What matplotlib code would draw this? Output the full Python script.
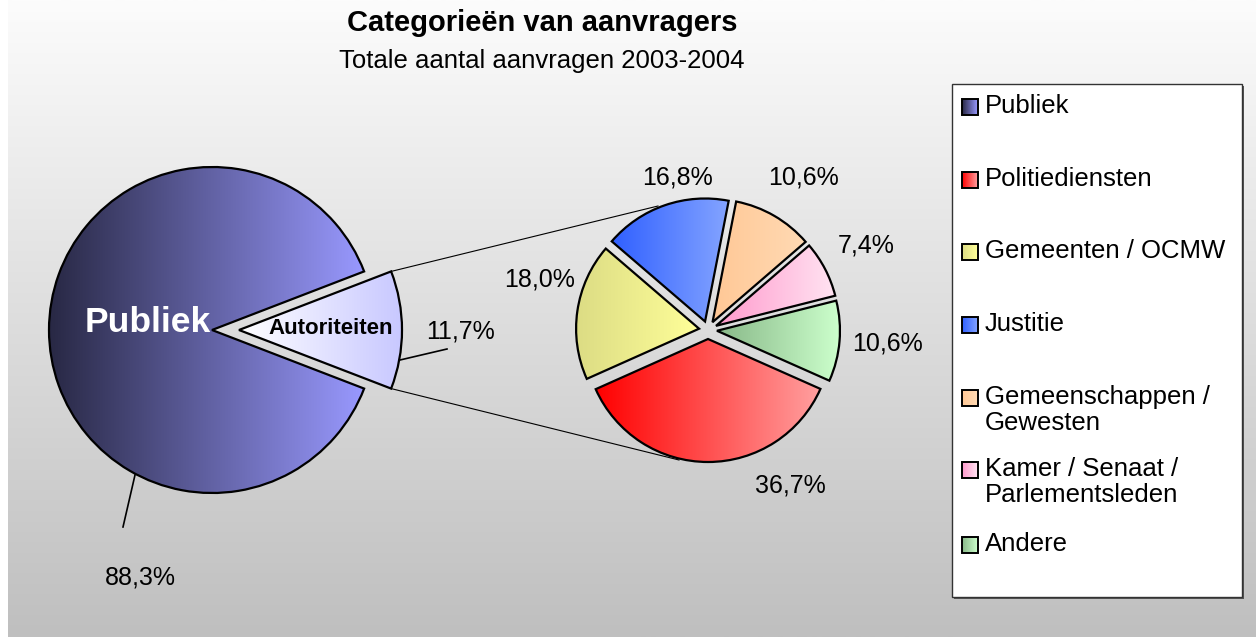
import numpy as np
import matplotlib
matplotlib.use("Agg")
import matplotlib.pyplot as plt
from matplotlib.colors import LinearSegmentedColormap
from matplotlib.patches import Rectangle

plt.rcParams['font.family'] = ['Liberation Sans', 'DejaVu Sans']

# data
main_labels = ['Publiek', 'Autoriteiten']
main_values = [88.3, 11.7]
sub_labels = ['Politiediensten', 'Gemeenten / OCMW', 'Justitie',
              'Gemeenschappen / Gewesten', 'Kamer / Senaat / Parlementsleden', 'Andere']
sub_values = [36.7, 18.0, 16.8, 10.6, 7.4, 10.6]
legend_labels = ['Publiek', 'Politiediensten', 'Gemeenten / OCMW', 'Justitie',
                 'Gemeenschappen /\nGewesten', 'Kamer / Senaat /\nParlementsleden', 'Andere']

# gradient colours (left -> right)
main_cols = [('#282844', '#9999ff'), ('#ffffff', '#c8c8ff')]
sub_cols = [('#ff0000', '#ffa0a0'), ('#dcdc84', '#ffff99'), ('#3060ff', '#84a4ff'),
            ('#ffc896', '#ffdab4'), ('#ff99cc', '#ffe4f2'), ('#88b888', '#ccffcc')]
legend_cols = [main_cols[0]] + sub_cols

W, H = 1256, 637


def py(y):
    return H - y


def pct(v):
    return f"{v:.1f}".replace('.', ',') + '%'


def gradient_fill(ax, patch, c0, c1):
    patch.set_facecolor('none')
    ext = patch.get_path().get_extents()
    cmap = LinearSegmentedColormap.from_list('g', [c0, c1])
    grad = np.linspace(0, 1, 256).reshape(1, -1)
    im = ax.imshow(grad, cmap=cmap, extent=[ext.x0, ext.x1, ext.y0, ext.y1],
                   aspect='auto', origin='lower', zorder=0.5, interpolation='bilinear')
    im.set_clip_path(patch)


fig = plt.figure(figsize=(W / 100, H / 100), dpi=100)
ax = fig.add_axes([0, 0, 1, 1])

# background
bg = LinearSegmentedColormap.from_list('bg', ['#bfbfbf', '#fcfcfc'])
ax.imshow(np.linspace(0, 1, 256).reshape(-1, 1), cmap=bg, extent=[8, W, 0, H],
          aspect='auto', origin='lower', zorder=-10)

# main pie (explode is in data units here)
r1 = 163
c1 = (212, py(330))
w1, _ = ax.pie(main_values, center=c1, radius=r1,
               startangle=main_values[1] / 100 * 180, counterclock=True,
               explode=[0, 27],
               wedgeprops=dict(edgecolor='black', linewidth=1.6))
for w, (a, b) in zip(w1, main_cols):
    gradient_fill(ax, w, a, b)

# second pie
r2 = 123
c2 = (708, py(330))
w2, _ = ax.pie(sub_values, center=c2, radius=r2,
               startangle=-90 + sub_values[0] / 100 * 180, counterclock=False,
               explode=[9] * len(sub_values),
               wedgeprops=dict(edgecolor='black', linewidth=1.6))
for w, (a, b) in zip(w2, sub_cols):
    gradient_fill(ax, w, a, b)

# connector lines from the Autoriteiten slice
aw = w1[1]
cx, cy = aw.center
t1, t2 = np.radians(aw.theta1), np.radians(aw.theta2)
top = (cx + r1 * np.cos(t2), cy + r1 * np.sin(t2))
bot = (cx + r1 * np.cos(t1), cy + r1 * np.sin(t1))
ax.plot([top[0], 658], [top[1], py(206)], color='black', lw=0.8, zorder=2)
ax.plot([bot[0], 679], [bot[1], py(460)], color='black', lw=0.8, zorder=2)

# labels main pie
ax.text(148, py(322), main_labels[0], color='white', fontsize=25.5, fontweight='bold',
        ha='center', va='center', zorder=3)
ax.text(331, py(328), main_labels[1], color='black', fontsize=16, fontweight='bold',
        ha='center', va='center', zorder=3)
ax.plot([135, 123], [py(475), py(527)], color='black', lw=1.2)
ax.text(140, py(577), pct(main_values[0]), fontsize=18, ha='center', va='center')
ax.plot([400, 447], [py(360), py(349)], color='black', lw=1.2)
ax.text(460, py(332), pct(main_values[1]), fontsize=18, ha='center', va='center')

# labels second pie
sub_pos = [(790, 485), (540, 280), (677, 177), (803, 177), (866, 245), (888, 344)]
for v, (x, y) in zip(sub_values, sub_pos):
    ax.text(x, py(y), pct(v), fontsize=18, ha='center', va='center')

# titles
ax.text(542, py(23), 'Categorieën van aanvragers', fontsize=21, fontweight='bold',
        ha='center', va='center')
ax.text(542, py(61), 'Totale aantal aanvragen 2003-2004', fontsize=18.5,
        ha='center', va='center')

# legend
ax.add_patch(Rectangle((954, py(599)), 290, 513, facecolor='#555555', edgecolor='none', zorder=4))
ax.add_patch(Rectangle((952, py(597)), 290, 513, facecolor='white', edgecolor='#333333',
                       lw=1, zorder=5))
leg_y = [107, 180, 252, 325, 398, 470, 545]
for lab, y, (a, b) in zip(legend_labels, leg_y, legend_cols):
    sq = Rectangle((962, py(y) - 8), 16, 16, facecolor='none', edgecolor='black',
                   lw=1.4, zorder=7)
    ax.add_patch(sq)
    cm = LinearSegmentedColormap.from_list('l', [a, b])
    ax.imshow(np.linspace(0, 1, 64).reshape(1, -1), cmap=cm,
              extent=[962, 978, py(y) - 8, py(y) + 8], aspect='auto', zorder=6)
    ax.text(985, py(y) + 13, lab, fontsize=18.5, ha='left', va='top',
            linespacing=1.08, zorder=7)

ax.set_xlim(0, W)
ax.set_ylim(0, H)
ax.axis('off')
fig.savefig('out.png', dpi=100)
